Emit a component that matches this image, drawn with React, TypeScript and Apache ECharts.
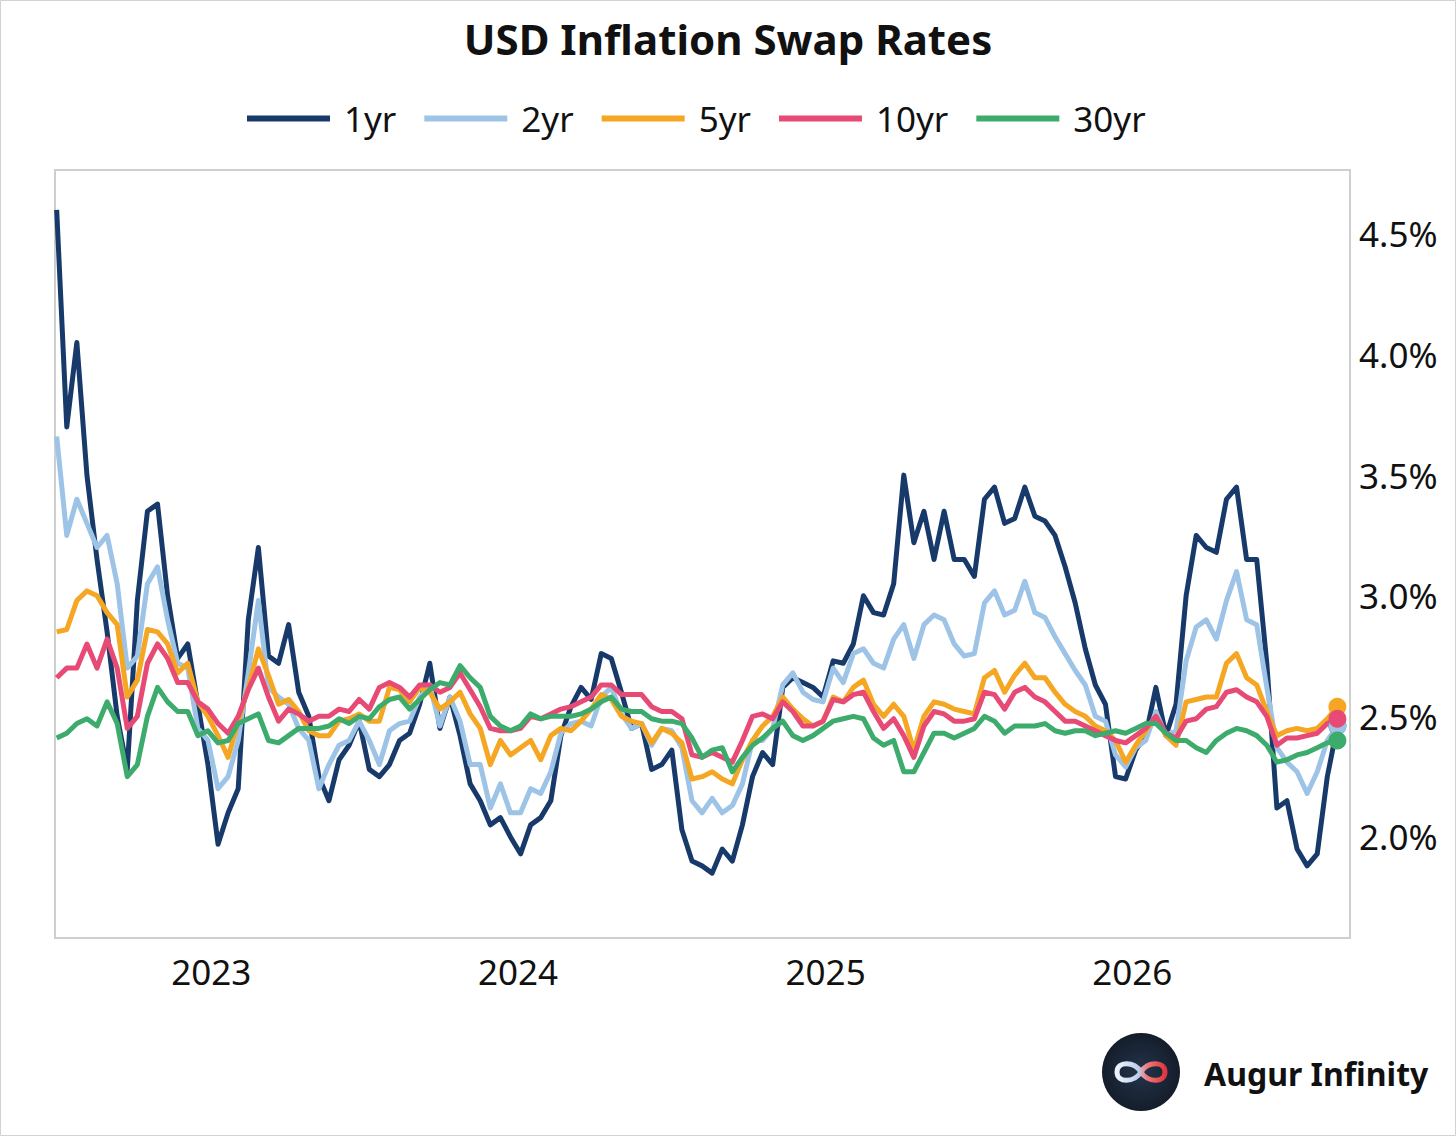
import React, { useEffect, useRef } from "react";
import * as echarts from "echarts";

const TITLE = "USD Inflation Swap Rates";
const BRAND = "Augur Infinity";
const SERIES_NAMES = ["1yr", "2yr", "5yr", "10yr", "30yr"];
const COLORS = ["#173a6b", "#9dc3e6", "#f5a623", "#e84a76", "#3dab6c"];
const START_DATE = Date.UTC(2022, 6, 1);
const STEP_DAYS = 12;
const X_TICK_YEARS = [2023, 2024, 2025, 2026];
const Y_TICKS = [2.0, 2.5, 3.0, 3.5, 4.0, 4.5];

const yr1 = [
  4.60, 3.70, 4.05, 3.50, 3.15, 2.85, 2.50, 2.28, 2.98, 3.35,
  3.38, 3.00, 2.74, 2.80, 2.55, 2.30, 1.97, 2.10, 2.20, 2.90,
  3.20, 2.75, 2.72, 2.88, 2.60, 2.50, 2.25, 2.15, 2.32, 2.38,
  2.48, 2.28, 2.25, 2.30, 2.40, 2.43, 2.55, 2.72, 2.45, 2.58,
  2.42, 2.22, 2.15, 2.05, 2.08, 2.00, 1.93, 2.05, 2.08, 2.15,
  2.42, 2.54, 2.62, 2.57, 2.76, 2.74, 2.60, 2.45, 2.47, 2.28,
  2.30, 2.36, 2.03, 1.90, 1.88, 1.85, 1.95, 1.90, 2.05, 2.25,
  2.35, 2.30, 2.62, 2.66, 2.64, 2.62, 2.58, 2.73, 2.72, 2.80,
  3.00, 2.93, 2.92, 3.05, 3.50, 3.22, 3.35, 3.15, 3.35, 3.15,
  3.15, 3.08, 3.40, 3.45, 3.30, 3.32, 3.45, 3.33, 3.31, 3.25,
  3.12, 2.97, 2.78, 2.63, 2.55, 2.25, 2.24, 2.36, 2.42, 2.62,
  2.42, 2.55, 3.00, 3.25, 3.20, 3.18, 3.40, 3.45, 3.15, 3.15,
  2.72, 2.12, 2.15, 1.95, 1.88, 1.93, 2.25, 2.46,
];

const yr2 = [
  3.66, 3.25, 3.40, 3.30, 3.20, 3.25, 3.05, 2.70, 2.75, 3.05,
  3.12, 2.90, 2.72, 2.70, 2.45, 2.40, 2.20, 2.25, 2.40, 2.68,
  2.98, 2.62, 2.58, 2.55, 2.45, 2.40, 2.20, 2.30, 2.38, 2.40,
  2.48, 2.40, 2.30, 2.44, 2.47, 2.48, 2.58, 2.63, 2.46, 2.58,
  2.48, 2.30, 2.30, 2.12, 2.22, 2.10, 2.10, 2.20, 2.18, 2.27,
  2.43, 2.47, 2.48, 2.46, 2.58, 2.62, 2.51, 2.45, 2.47, 2.38,
  2.45, 2.44, 2.37, 2.15, 2.10, 2.16, 2.10, 2.13, 2.22, 2.40,
  2.40, 2.45, 2.63, 2.68, 2.60, 2.57, 2.56, 2.70, 2.64, 2.76,
  2.78, 2.72, 2.70, 2.82, 2.88, 2.74, 2.88, 2.92, 2.90, 2.80,
  2.75, 2.76, 2.97, 3.02, 2.92, 2.94, 3.06, 2.93, 2.91, 2.83,
  2.76, 2.69, 2.63, 2.50, 2.48, 2.34, 2.29, 2.37, 2.40, 2.52,
  2.42, 2.44, 2.73, 2.87, 2.90, 2.82, 2.98, 3.10, 2.90, 2.88,
  2.62, 2.37, 2.31, 2.27, 2.18, 2.27, 2.40, 2.46,
];

const yr5 = [
  2.85, 2.86, 2.98, 3.02, 3.00, 2.93, 2.88, 2.58, 2.65, 2.86,
  2.85, 2.80, 2.68, 2.72, 2.56, 2.50, 2.42, 2.33, 2.48, 2.62,
  2.78, 2.67, 2.55, 2.57, 2.52, 2.44, 2.42, 2.42, 2.48, 2.49,
  2.51, 2.48, 2.48, 2.62, 2.61, 2.56, 2.62, 2.60, 2.53, 2.56,
  2.60, 2.51, 2.45, 2.30, 2.40, 2.34, 2.37, 2.40, 2.32, 2.42,
  2.45, 2.44, 2.48, 2.53, 2.59, 2.57, 2.50, 2.48, 2.47, 2.39,
  2.45, 2.43, 2.39, 2.24, 2.25, 2.27, 2.24, 2.22, 2.32, 2.40,
  2.46, 2.50, 2.58, 2.53, 2.49, 2.46, 2.48, 2.58, 2.56, 2.62,
  2.65, 2.55, 2.50, 2.55, 2.50, 2.36, 2.50, 2.56, 2.55, 2.53,
  2.52, 2.51, 2.66, 2.69, 2.60, 2.67, 2.72, 2.66, 2.66, 2.60,
  2.55, 2.52, 2.50, 2.46, 2.44, 2.40, 2.31, 2.38, 2.44, 2.50,
  2.42, 2.38, 2.56, 2.57, 2.58, 2.58, 2.72, 2.76, 2.66, 2.63,
  2.52, 2.42, 2.44, 2.45, 2.44, 2.45, 2.49, 2.54,
];

const yr10 = [
  2.66, 2.70, 2.70, 2.80, 2.70, 2.82, 2.70, 2.45, 2.50, 2.72,
  2.80, 2.74, 2.64, 2.64, 2.56, 2.53, 2.47, 2.43, 2.50, 2.61,
  2.70, 2.58, 2.48, 2.53, 2.51, 2.48, 2.50, 2.50, 2.53, 2.52,
  2.57, 2.53, 2.62, 2.64, 2.62, 2.58, 2.63, 2.63, 2.60, 2.62,
  2.68, 2.61, 2.54, 2.45, 2.44, 2.44, 2.45, 2.50, 2.49, 2.51,
  2.53, 2.54, 2.56, 2.58, 2.63, 2.63, 2.59, 2.59, 2.59, 2.54,
  2.52, 2.52, 2.49, 2.34, 2.33, 2.35, 2.33, 2.31, 2.40, 2.50,
  2.51, 2.49, 2.56, 2.52, 2.46, 2.46, 2.48, 2.57, 2.56, 2.59,
  2.60, 2.52, 2.45, 2.49, 2.42, 2.33, 2.46, 2.52, 2.51, 2.48,
  2.48, 2.49, 2.60, 2.59, 2.53, 2.60, 2.62, 2.58, 2.56, 2.52,
  2.48, 2.48, 2.46, 2.44, 2.42, 2.40, 2.39, 2.42, 2.45, 2.50,
  2.43, 2.41, 2.48, 2.49, 2.53, 2.54, 2.60, 2.61, 2.58, 2.56,
  2.50, 2.38, 2.41, 2.41, 2.42, 2.43, 2.47, 2.49,
];

const yr30 = [
  2.41, 2.43, 2.47, 2.49, 2.46, 2.56, 2.47, 2.25, 2.30, 2.50,
  2.62, 2.56, 2.52, 2.52, 2.42, 2.44, 2.39, 2.40, 2.47, 2.49,
  2.51, 2.40, 2.39, 2.42, 2.45, 2.45, 2.45, 2.46, 2.49, 2.47,
  2.50, 2.49, 2.54, 2.57, 2.58, 2.53, 2.57, 2.61, 2.64, 2.63,
  2.71, 2.66, 2.62, 2.50, 2.46, 2.44, 2.46, 2.51, 2.49, 2.50,
  2.50, 2.50, 2.51, 2.53, 2.56, 2.58, 2.53, 2.52, 2.52, 2.49,
  2.48, 2.48, 2.47, 2.41, 2.33, 2.36, 2.37, 2.27, 2.33, 2.38,
  2.41, 2.45, 2.48, 2.42, 2.40, 2.42, 2.45, 2.48, 2.49, 2.50,
  2.49, 2.41, 2.38, 2.40, 2.27, 2.27, 2.35, 2.43, 2.43, 2.41,
  2.43, 2.45, 2.50, 2.48, 2.43, 2.46, 2.46, 2.46, 2.47, 2.44,
  2.43, 2.44, 2.44, 2.42, 2.43, 2.44, 2.43, 2.45, 2.47, 2.47,
  2.43, 2.40, 2.40, 2.37, 2.35, 2.40, 2.43, 2.45, 2.44, 2.42,
  2.38, 2.31, 2.32, 2.34, 2.35, 2.37, 2.39, 2.40,
];

const SERIES_VALUES = [yr1, yr2, yr5, yr10, yr30];

const FONT = "'Noto Sans', 'Open Sans', sans-serif";
const DAY = 86400000;

let shapeRegistered = false;
function ensureShape() {
  if (shapeRegistered) return;
  echarts.graphic.registerShape(
    "infinityLogo",
    echarts.graphic.extendPath(
      "M0,0 C-7,-11 -24,-11 -24,0 C-24,11 -7,11 0,0 C7,-11 24,-11 24,0 C24,11 7,11 0,0 Z",
      {}
    )
  );
  shapeRegistered = true;
}

export default function App() {
  const ref = useRef<HTMLDivElement>(null);

  useEffect(() => {
    if (!ref.current) return;
    ensureShape();
    const chart = echarts.init(ref.current, undefined, { renderer: "svg" });

    const dates = yr1.map((_, i) => START_DATE + i * STEP_DAYS * DAY);
    const lastIdx = dates.length - 1;

    const lineSeries = SERIES_NAMES.map((name, k) => ({
      name,
      type: "line",
      data: dates.map((d, i) => [d, SERIES_VALUES[k][i]]),
      showSymbol: false,
      symbol: "none",
      lineStyle: { color: COLORS[k], width: 5, join: "round" },
      itemStyle: { color: COLORS[k] },
      z: 2 + k,
      silent: true,
    }));

    const endDots = {
      name: "end",
      type: "scatter",
      symbol: "circle",
      symbolSize: 18,
      z: 10,
      silent: true,
      itemStyle: { opacity: 1 },
      data: SERIES_NAMES.map((_, k) => ({
        value: [dates[lastIdx], SERIES_VALUES[k][lastIdx]],
        itemStyle: { color: COLORS[k], opacity: 1 },
      })),
    };

    const option = {
      animation: false,
      backgroundColor: "#ffffff",
      title: {
        text: TITLE,
        left: "center",
        top: 12,
        textStyle: {
          fontFamily: FONT,
          fontSize: 42,
          fontWeight: "bold",
          color: "#111111",
        },
      },
      legend: {
        data: SERIES_NAMES,
        left: 247,
        top: 101,
        padding: 0,
        icon: "rect",
        itemWidth: 83,
        itemHeight: 6,
        itemGap: 28,
        textStyle: {
          fontFamily: FONT,
          fontSize: 35,
          color: "#111111",
          padding: [0, 0, 0, 9],
        },
      },
      grid: {
        left: 55,
        top: 170,
        width: 1295,
        height: 768,
        show: true,
        borderColor: "#cfcfcf",
        borderWidth: 2,
        backgroundColor: "transparent",
      },
      xAxis: {
        type: "value",
        min: Date.UTC(2022, 5, 29),
        max: Date.UTC(2026, 8, 17),
        axisLine: { show: false },
        axisTick: { show: false },
        splitLine: { show: false },
        axisLabel: {
          customValues: X_TICK_YEARS.map((y) => Date.UTC(y, 0, 1)),
          formatter: (v: number) => String(new Date(v).getUTCFullYear()),
          fontFamily: FONT,
          fontSize: 35,
          color: "#111111",
          margin: 16,
        },
      },
      yAxis: {
        type: "value",
        position: "right",
        min: 1.581,
        max: 4.765,
        axisLine: { show: false },
        axisTick: { show: false },
        splitLine: { show: false },
        axisLabel: {
          customValues: Y_TICKS,
          formatter: (v: number) => v.toFixed(1) + "%",
          fontFamily: FONT,
          fontSize: 35,
          color: "#111111",
          margin: 9,
        },
      },
      graphic: [
        {
          type: "rect",
          shape: { x: 0.5, y: 0.5, width: 1455, height: 1135 },
          style: { fill: "none", stroke: "#d2d2d2", lineWidth: 1 },
          silent: true,
        },
        {
          type: "circle",
          shape: { cx: 1141, cy: 1072, r: 39 },
          style: {
            fill: {
              type: "radial",
              x: 0.5,
              y: 0.5,
              r: 0.5,
              colorStops: [
                { offset: 0, color: "#24344a" },
                { offset: 1, color: "#141d2b" },
              ],
            },
          },
          silent: true,
        },
        {
          type: "infinityLogo",
          x: 1141,
          y: 1072,
          style: {
            fill: "none",
            lineWidth: 5,
            stroke: {
              type: "linear",
              x: 0,
              y: 0,
              x2: 1,
              y2: 0,
              colorStops: [
                { offset: 0, color: "#eef3fa" },
                { offset: 0.45, color: "#b9cfee" },
                { offset: 0.6, color: "#f08080" },
                { offset: 1, color: "#e0363f" },
              ],
            },
          },
          silent: true,
        },
        {
          type: "text",
          x: 1204,
          y: 1073,
          style: {
            text: BRAND,
            fontFamily: FONT,
            fontSize: 32,
            fontWeight: "bold",
            fill: "#111111",
            textAlign: "left",
            textVerticalAlign: "middle",
          },
          silent: true,
        },
      ],
      series: [...lineSeries, endDots],
    };

    chart.setOption(option as any);
    return () => chart.dispose();
  }, []);

  return (
    <div
      ref={ref}
      style={{ position: "fixed", left: 0, top: 0, width: 1456, height: 1136, background: "#fff" }}
    />
  );
}
